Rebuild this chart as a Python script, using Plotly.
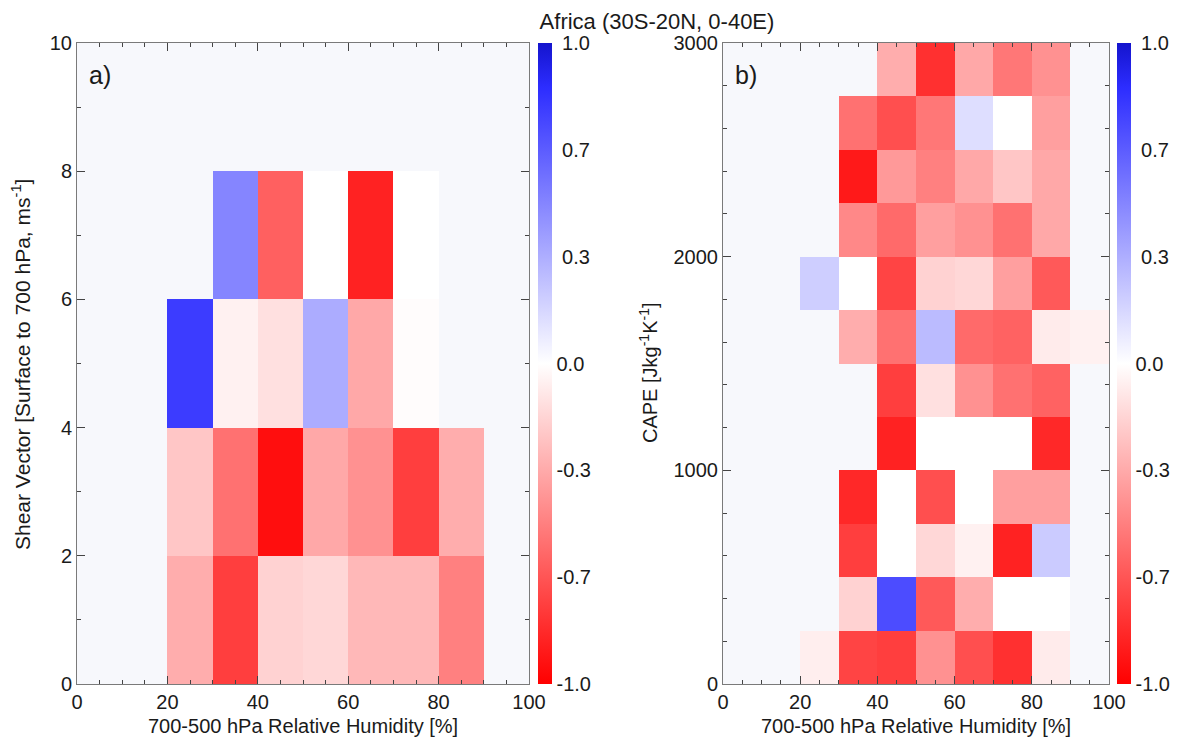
import numpy as np
import plotly.graph_objects as go

# ---------------- data ----------------
rh_edges = [0, 10, 20, 30, 40, 50, 60, 70, 80, 90, 100]
shear_edges = [0, 2, 4, 6, 8, 10]
cape_edges = [0, 250, 500, 750, 1000, 1250, 1500, 1750, 2000, 2250, 2500, 2750, 3000]
N = None

# panel a: correlation, rows = shear bins (bottom to top), cols = RH bins
corr_shear = [
    [N, N, -0.29, -0.78, -0.16, -0.14, -0.25, -0.25, -0.50, N],
    [N, N, -0.20, -0.57, -0.95, -0.31, -0.42, -0.78, -0.29, N],
    [N, N, 0.82, -0.05, -0.11, 0.31, -0.31, -0.01, N, N],
    [N, N, N, 0.50, -0.65, 0.0, -0.88, 0.0, N, N],
    [N, N, N, N, N, N, N, N, N, N],
]

# panel b: correlation, rows = CAPE bins (bottom to top), cols = RH bins
corr_cape = [
    [N, N, -0.06, -0.76, -0.78, -0.42, -0.72, -0.83, -0.07, N],
    [N, N, N, -0.16, 0.76, -0.68, -0.29, 0.0, 0.0, N],
    [N, N, N, -0.78, 0.0, -0.14, -0.05, -0.88, 0.19, N],
    [N, N, N, -0.86, 0.0, -0.72, 0.0, -0.35, -0.35, N],
    [N, N, N, N, -0.88, 0.0, 0.0, 0.0, -0.86, N],
    [N, N, N, N, -0.78, -0.11, -0.42, -0.57, -0.64, N],
    [N, N, N, -0.29, -0.57, 0.25, -0.60, -0.64, -0.07, -0.05],
    [N, N, 0.18, 0.0, -0.76, -0.16, -0.14, -0.35, -0.68, N],
    [N, N, N, -0.46, -0.60, -0.35, -0.42, -0.57, -0.31, N],
    [N, N, N, -0.91, -0.38, -0.50, -0.31, -0.20, -0.31, N],
    [N, N, N, -0.57, -0.72, -0.54, 0.12, 0.0, -0.35, N],
    [N, N, N, N, -0.29, -0.83, -0.31, -0.54, -0.42, N],
]

cbar_values = [-1.0, -0.7, -0.3, 0.0, 0.3, 0.7, 1.0]
cbar_labels = ["-1.0", "-0.7", "-0.3", "0.0", "\u00a00.3", "\u00a00.7", "\u00a01.0"]

# colour bar is evenly spaced in label position -> map values to that scale
cbar_pos = [-3, -2, -1, 0, 1, 2, 3]


def to_pos(rows):
    out = []
    for r in rows:
        out.append([np.nan if v is None else float(np.interp(v, cbar_values, cbar_pos)) for v in r])
    return out


colorscale = [
    [0.0, "rgb(255,0,0)"],
    [0.5, "rgb(255,255,255)"],
    [0.93, "rgb(45,45,255)"],
    [1.0, "rgb(20,20,205)"],
]

W, H = 1199, 742
OFF = 8  # page body margin


def px(x):
    return (x - OFF) / W


def py(y):
    return 1 - (y - OFF) / H


ax1 = (77, 529)
ax2 = (723, 1109)
ytop, ybot = 43, 684

FONT = "Liberation Sans, Arial, sans-serif"
TXT = "#1a1a1a"
TICKF = 20


def cbar(x_left):
    return dict(
        x=px(x_left), xanchor="left", xref="paper", xpad=0, ypad=0,
        y=py((ytop + ybot) / 2), yanchor="middle",
        len=ybot - ytop, lenmode="pixels",
        thickness=14, thicknessmode="pixels",
        outlinewidth=0,
        tickmode="array", tickvals=cbar_pos, ticktext=cbar_labels,
        ticks="",
        tickfont=dict(family=FONT, size=TICKF, color=TXT),
    )


fig = go.Figure()
fig.add_trace(go.Heatmap(
    x=rh_edges, y=shear_edges, z=to_pos(corr_shear),
    colorscale=colorscale, zmin=-3, zmax=3,
    colorbar=cbar(538), xaxis="x", yaxis="y", hoverongaps=False,
))
fig.add_trace(go.Heatmap(
    x=rh_edges, y=cape_edges, z=to_pos(corr_cape),
    colorscale=colorscale, zmin=-3, zmax=3,
    colorbar=cbar(1117), xaxis="x2", yaxis="y2", hoverongaps=False,
))

axis_common = dict(
    showgrid=False, zeroline=False, showline=True, linecolor="#7a7a7a", linewidth=1,
    mirror="ticks", ticks="inside", ticklen=8, tickcolor="#444", tickwidth=1,
    tickfont=dict(family=FONT, size=TICKF, color=TXT), automargin=False,
)
xcommon = dict(axis_common, range=[0, 100], tickmode="array", tickvals=[0, 20, 40, 60, 80, 100],
               minor=dict(ticks="inside", ticklen=4, tickcolor="#444", dtick=5, showgrid=False))

fig.update_layout(
    width=W, height=H,
    margin=dict(l=0, r=0, t=0, b=0),
    paper_bgcolor="white", plot_bgcolor="#f7f8fc",
    showlegend=False,
    font=dict(family=FONT, color=TXT),
    xaxis=dict(xcommon, domain=[px(ax1[0]), px(ax1[1])], anchor="y"),
    yaxis=dict(axis_common, domain=[py(ybot), py(ytop)], anchor="x", range=[0, 10],
               tickvals=[0, 2, 4, 6, 8, 10],
               minor=dict(ticks="inside", ticklen=4, tickcolor="#444", dtick=1, showgrid=False)),
    xaxis2=dict(xcommon, domain=[px(ax2[0]), px(ax2[1])], anchor="y2"),
    yaxis2=dict(axis_common, domain=[py(ybot), py(ytop)], anchor="x2", range=[0, 3000],
                tickvals=[0, 1000, 2000, 3000],
                minor=dict(ticks="inside", ticklen=4, tickcolor="#444", dtick=200, showgrid=False)),
    title=dict(text="Africa (30S-20N, 0-40E)", x=px(657), xanchor="center", y=py(21),
               yanchor="middle", yref="container", xref="container",
               font=dict(family=FONT, size=22, color=TXT)),
)

ann = [
    dict(text="a)", x=px(ax1[0] + 10), y=py(75), xanchor="left", yanchor="middle",
         font=dict(size=25)),
    dict(text="b)", x=px(ax2[0] + 10), y=py(75), xanchor="left", yanchor="middle",
         font=dict(size=25)),
    dict(text="700-500 hPa Relative Humidity [%]", x=px((ax1[0] + ax1[1]) / 2), y=py(726),
         xanchor="center", yanchor="middle", font=dict(size=20)),
    dict(text="700-500 hPa Relative Humidity [%]", x=px((ax2[0] + ax2[1]) / 2), y=py(726),
         xanchor="center", yanchor="middle", font=dict(size=20)),
    dict(text="Shear Vector [Surface to 700 hPa, ms<sup>-1</sup>]", x=px(21), y=py(365),
         xanchor="center", yanchor="middle", textangle=-90, font=dict(size=21)),
    dict(text="CAPE [Jkg<sup>-1</sup>K<sup>-1</sup>]", x=px(648), y=py(373),
         xanchor="center", yanchor="middle", textangle=-90, font=dict(size=20)),
]
for a in ann:
    a.update(xref="paper", yref="paper", showarrow=False)
    a["font"].update(family=FONT, color=TXT)
fig.update_layout(annotations=ann)

fig.write_html("out.html")
